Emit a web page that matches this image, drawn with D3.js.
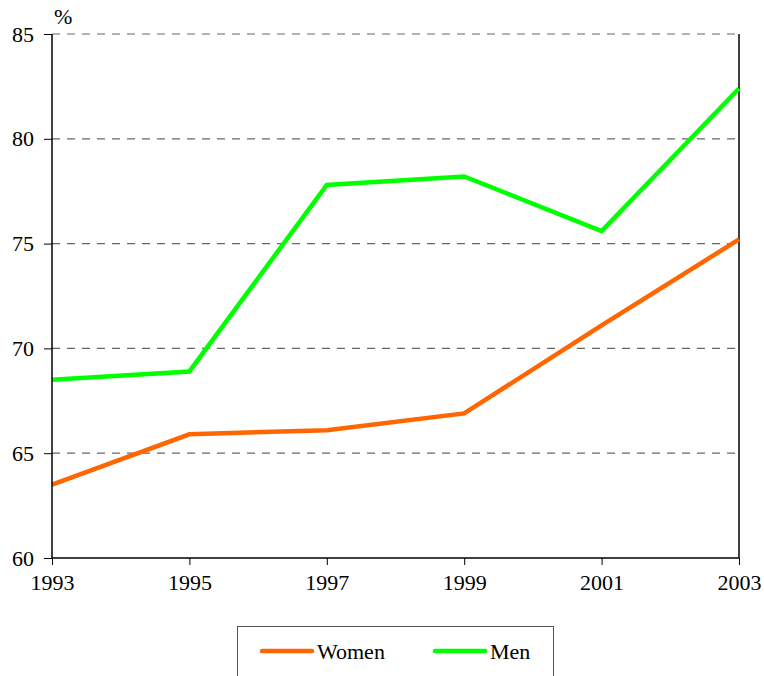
<!DOCTYPE html>
<html>
<head>
<meta charset="utf-8">
<script src="https://cdn.jsdelivr.net/npm/d3@7"></script>
<style>
  body { margin: 0; background: #fff; }
</style>
</head>
<body>
<div id="chart"></div>
<script>
// Data
const years = [1993, 1995, 1997, 1999, 2001, 2003];
const women = [63.5, 65.9, 66.1, 66.9, 71.1, 75.2];
const men = [68.5, 68.9, 77.8, 78.2, 75.6, 82.4];
const yTicks = [60, 65, 70, 75, 80, 85];
const seriesNames = ["Women", "Men"];
const seriesColors = ["#ff6600", "#00ff00"];

const font = "'Liberation Serif', 'Times New Roman', Times, serif";
const width = 764;
const height = 676;
const margin = { top: 34, right: 25, bottom: 118, left: 52 };
const innerWidth = width - margin.left - margin.right;
const innerHeight = height - margin.top - margin.bottom;

const svg = d3.select("#chart")
  .append("svg")
  .attr("width", width)
  .attr("height", height)
  .attr("font-family", font);

const chart = svg.append("g")
  .attr("transform", `translate(${margin.left}, ${margin.top})`);

// Scales
const xScale = d3.scaleLinear()
  .domain([1993, 2003])
  .range([0, innerWidth]);

const yScale = d3.scaleLinear()
  .domain([60, 85])
  .range([innerHeight, 0]);

// Dashed gridlines
chart.selectAll(".grid")
  .data(yTicks.filter(d => d > 60))
  .enter()
  .append("line")
  .attr("class", "grid")
  .attr("x1", 0)
  .attr("x2", innerWidth)
  .attr("y1", d => yScale(d))
  .attr("y2", d => yScale(d))
  .attr("stroke", "#666")
  .attr("stroke-width", 1.2)
  .attr("stroke-dasharray", "8,7");

// Right border
chart.append("line")
  .attr("x1", innerWidth).attr("x2", innerWidth)
  .attr("y1", 0).attr("y2", innerHeight)
  .attr("stroke", "#000").attr("stroke-width", 1.5);

// Lines
const line = d3.line()
  .x((d, i) => xScale(years[i]))
  .y(d => yScale(d));

[women, men].forEach((values, k) => {
  chart.append("path")
    .datum(values)
    .attr("fill", "none")
    .attr("stroke", seriesColors[k])
    .attr("stroke-width", 4.5)
    .attr("stroke-linejoin", "miter")
    .attr("d", line);
});

// Axes
const yAxis = d3.axisLeft(yScale).tickValues(yTicks).tickSize(8).tickPadding(10);
const yG = chart.append("g").call(yAxis).attr("font-family", font).attr("font-size", 22);
yG.select(".domain").attr("stroke", "#000").attr("stroke-width", 1.5).attr("d", `M0,${innerHeight}V0`);
yG.selectAll("text").attr("fill", "#000");

const xAxis = d3.axisBottom(xScale).tickValues(years).tickFormat(d3.format("d")).tickSize(7).tickPadding(9);
const xG = chart.append("g")
  .attr("transform", `translate(0, ${innerHeight})`)
  .call(xAxis)
  .attr("font-family", font)
  .attr("font-size", 22);
xG.select(".domain").attr("stroke", "#000").attr("stroke-width", 1.5).attr("d", `M0,0H${innerWidth}`);
xG.selectAll("text").attr("fill", "#000");

// Unit label
svg.append("text")
  .attr("x", 54)
  .attr("y", 24)
  .attr("font-size", 22)
  .text("%");

// Legend
const legend = svg.append("g");
legend.append("rect")
  .attr("x", 237.5)
  .attr("y", 626.5)
  .attr("width", 316)
  .attr("height", 60)
  .attr("fill", "#fff")
  .attr("stroke", "#555")
  .attr("stroke-width", 1);

const legendX = [262, 435];
seriesNames.forEach((name, i) => {
  legend.append("line")
    .attr("x1", legendX[i]).attr("x2", legendX[i] + 50)
    .attr("y1", 651).attr("y2", 651)
    .attr("stroke", seriesColors[i])
    .attr("stroke-width", 4.5)
    .attr("stroke-linecap", "round");
  legend.append("text")
    .attr("x", legendX[i] + 55)
    .attr("y", 659)
    .attr("font-size", 22)
    .text(name);
});
</script>
</body>
</html>
